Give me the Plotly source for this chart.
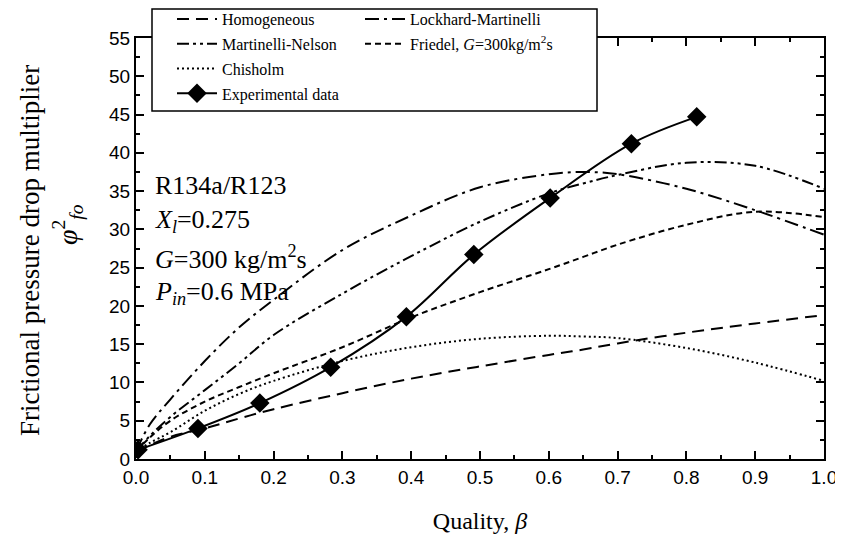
import plotly.graph_objects as go

# ---- data ----
quality = [0, 0.02, 0.05, 0.1, 0.15, 0.2, 0.3, 0.4, 0.5, 0.6, 0.65, 0.7, 0.8, 0.9, 1.0]
homogeneous = [1.0, 1.8, 2.9, 4.0, 5.3, 6.5, 8.6, 10.5, 12.1, 13.6, 14.3, 15.1, 16.5, 17.7, 18.8]
lockhart_martinelli = [1.0, 4.5, 7.8, 12.8, 17.2, 20.8, 27.3, 31.8, 35.5, 37.2, 37.5, 37.2, 35.3, 32.5, 29.3]
martinelli_nelson = [1.0, 3.0, 5.5, 9.0, 12.5, 16.2, 21.6, 26.5, 31.0, 34.7, 36.0, 37.1, 38.7, 38.3, 35.3]
friedel = [1.0, 2.8, 5.0, 7.5, 9.4, 11.2, 14.6, 18.5, 21.8, 24.8, 26.4, 28.0, 30.6, 32.3, 31.6]
chisholm = [1.0, 2.1, 3.5, 6.3, 8.5, 10.2, 12.8, 14.6, 15.7, 16.1, 16.0, 15.8, 14.5, 12.6, 10.2]

exp_quality = [0.003, 0.09, 0.18, 0.283, 0.393, 0.491, 0.602, 0.72, 0.815]
exp_phi = [1.2, 4.0, 7.3, 12.0, 18.6, 26.7, 34.1, 41.2, 44.7]

serif = "Liberation Serif, Times New Roman, serif"
sans = "Liberation Sans, Arial, sans-serif"

W, H, OFF = 843, 540, 8          # page body offset of the figure
PX0, PX1, PY0, PY1 = 136, 824, 38, 459   # plot area in window pixels
PW, PH = PX1 - PX0, PY1 - PY0
def px(x):
    return (x - PX0) / PW
def py(y):
    return (PY1 - y) / PH

fig = go.Figure()

def model(name, y, dash, leg):
    fig.add_trace(go.Scatter(x=quality, y=y, mode="lines", name=name, legend=leg, legendgroup=name,
                             line=dict(color="black", width=2, dash=dash, shape="spline")))

model("Homogeneous", homogeneous, "12px,7px", "legend")
model("Lockhard-Martinelli", lockhart_martinelli, "14px,5px,3px,5px", "legend2")
model("Martinelli-Nelson", martinelli_nelson, "12px,4px,3px,4px,3px,4px", "legend")
model("Friedel, <i>G</i>=300kg/m<sup>2</sup>s", friedel, "6px,4px", "legend2")
model("Chisholm", chisholm, "2px,3px", "legend")

fig.add_trace(go.Scatter(x=exp_quality, y=exp_phi, mode="lines+markers", name="Experimental data",
                         legend="legend", legendgroup="exp",
                         line=dict(color="black", width=2, shape="spline"),
                         marker=dict(symbol="diamond", size=15, color="black")))

axis_common = dict(showline=True, linecolor="black", linewidth=2, mirror="ticks",
                   ticks="inside", ticklen=8, tickwidth=1.5, tickcolor="black",
                   showgrid=False, zeroline=False,
                   tickfont=dict(family=sans, size=19, color="black"))

fig.update_xaxes(range=[0, 1.0], dtick=0.1, tickformat=".1f",
                 minor=dict(ticks="inside", dtick=0.05, ticklen=4, tickcolor="black"),
                 title=dict(text="Quality, <i>β</i>", font=dict(family=serif, size=24, color="black"),
                            standoff=25),
                 **axis_common)
fig.update_yaxes(range=[0, 55], dtick=5,
                 minor=dict(ticks="inside", dtick=2.5, ticklen=4, tickcolor="black"),
                 **axis_common)

# y-axis titles
fig.add_annotation(text="Frictional pressure drop multiplier", xref="paper", yref="paper",
                   x=px(30), y=py(251), textangle=-90, showarrow=False, xanchor="center", yanchor="middle",
                   font=dict(family=serif, size=27, color="black"))
fig.add_annotation(text="<i>φ</i><sup>2</sup><sub><i>fo</i></sub>", xref="paper", yref="paper",
                   x=px(67), y=py(225), textangle=-90, showarrow=False, xanchor="center", yanchor="middle",
                   font=dict(family=serif, size=28, color="black"))

# condition text
labels = ["R134a/R123", "<i>X</i><sub><i>l</i></sub>=0.275", "<i>G</i>=300 kg/m<sup>2</sup>s",
          "<i>P</i><sub><i>in</i></sub>=0.6 MPa"]
ypix = [185, 221, 258, 293]
for t, yp in zip(labels, ypix):
    fig.add_annotation(text=t, xref="paper", yref="paper", x=px(153),
                       y=py(yp), xanchor="left", yanchor="middle", showarrow=False,
                       font=dict(family=serif, size=26, color="black"))

# legend frame
fig.add_shape(type="rect", xref="paper", yref="paper", x0=px(152), x1=px(597), y0=py(111), y1=py(9),
              fillcolor="white", line=dict(color="black", width=1.5), layer="above")

leg_common = dict(orientation="v", xanchor="left", yanchor="top", bgcolor="rgba(0,0,0,0)",
                  borderwidth=0, font=dict(family=serif, size=16, color="black"),
                  itemwidth=40, tracegroupgap=1)

fig.update_layout(
    width=W, height=H,
    margin=dict(l=PX0 - OFF, r=W - (PX1 - OFF), t=PY0 - OFF, b=H - (PY1 - OFF), autoexpand=False),
    paper_bgcolor="white", plot_bgcolor="white",
    legend=dict(x=px(172), y=py(2), **leg_common),
    legend2=dict(x=px(360), y=py(2), **leg_common),
)

fig.write_html("out.html")
